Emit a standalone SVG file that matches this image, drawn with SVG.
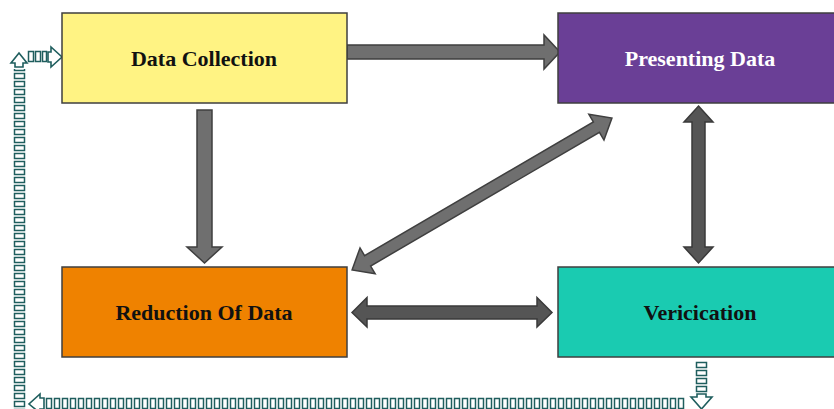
<svg xmlns="http://www.w3.org/2000/svg" width="834" height="409" viewBox="0 0 834 409">
  <style>
    .box { stroke: #3f3f3f; stroke-width: 1.5; }
    .label { font-family: "Liberation Serif", "Times New Roman", serif; font-weight: bold; font-size: 22px; text-anchor: middle; dominant-baseline: central; }
    .arrowA { fill: #6f6f6f; stroke: #3f3f3f; stroke-width: 1.5; stroke-linejoin: miter; }
    .arrowB { fill: #555555; stroke: #3a3a3a; stroke-width: 1.5; stroke-linejoin: miter; }
    .loopHead { fill: #ffffff; stroke: #1f5e5e; stroke-width: 1.6; stroke-linejoin: miter; }
    .bar { fill: #ffffff; stroke: #1f5e5e; stroke-width: 1.5; }
  </style>
  <defs>
    <!-- stacked little bars for the left vertical run -->
    <pattern id="barsV" patternUnits="userSpaceOnUse" x="13" y="0" width="13" height="8">
      <rect class="bar" x="1.5" y="1.5" width="10" height="5"/>
    </pattern>
    <!-- side-by-side little bars for the bottom run -->
    <pattern id="barsH" patternUnits="userSpaceOnUse" x="45" y="397" width="8" height="13">
      <rect class="bar" x="1.5" y="1.5" width="5" height="10"/>
    </pattern>
  </defs>
  <rect width="834" height="409" fill="#ffffff"/>

  <g id="connectors">
    <!-- Data Collection -> Presenting Data -->
    <polygon class="arrowA" points="347,45 544,45 544,35 560,52 544,69 544,59 347,59"/>
    <!-- Data Collection -> Reduction Of Data -->
    <polygon class="arrowA" points="197,110 212,110 212,247 222,247 204.5,263 187,247 197,247"/>
    <!-- Reduction Of Data <-> Presenting Data -->
    <polygon class="arrowA" transform="translate(482,194) rotate(-30.3)" points="-150.5,0 -132.5,-15 -132.5,-6 132.5,-6 132.5,-15 150.5,0 132.5,15 132.5,6 -132.5,6 -132.5,15"/>
    <!-- Reduction Of Data <-> Vericication -->
    <polygon class="arrowB" points="352,312.5 367,297.5 367,306 537,306 537,297.5 552,312.5 537,327 537,319 367,319 367,327"/>
    <!-- Presenting Data <-> Vericication -->
    <polygon class="arrowB" points="698.5,106 713,122 705,122 705,247 713,247 698.5,263 684,247 692,247 692,122 684,122"/>

    <!-- feedback loop: down, left, up, right -->
    <g id="loop">
      <!-- down from Vericication -->
      <rect class="bar" x="696.5" y="362.5" width="10" height="5"/>
      <rect class="bar" x="696.5" y="370.5" width="10" height="5"/>
      <rect class="bar" x="696.5" y="378.5" width="10" height="5"/>
      <rect class="bar" x="696.5" y="386.5" width="10" height="5"/>
      <polygon class="loopHead" points="697,394 706,394 706,397 712,397 701.5,409 691,397 697,397"/>
      <!-- left along the bottom -->
      <rect x="45" y="397" width="640" height="13" fill="url(#barsH)"/>
      <polygon class="loopHead" points="44,398 44,409 40,409 40,413 29,404 40,394 40,398"/>
      <!-- up the left side -->
      <rect x="13" y="69" width="13" height="344" fill="url(#barsV)"/>
      <polygon class="loopHead" points="15,67 15,63 11,63 19,53 27,63 23,63 23,67"/>
      <!-- right into Data Collection -->
      <rect class="bar" x="28.5" y="51.5" width="5" height="10"/>
      <rect class="bar" x="35.5" y="51.5" width="5" height="10"/>
      <rect class="bar" x="42.5" y="51.5" width="4" height="10"/>
      <polygon class="loopHead" points="48,52 51,52 51,47 62,57 51,67 51,62 48,62"/>
    </g>
  </g>

  <g id="data-collection">
    <rect class="box" x="62" y="13" width="285" height="90" fill="#fff383"/>
    <text class="label" x="204" y="58" fill="#111111">Data Collection</text>
  </g>
  <g id="presenting-data">
    <rect class="box" x="558" y="13" width="285" height="90" fill="#6a3f96"/>
    <text class="label" x="700" y="58" fill="#ffffff">Presenting Data</text>
  </g>
  <g id="reduction-of-data">
    <rect class="box" x="62" y="267" width="285" height="90" fill="#ef8200"/>
    <text class="label" x="204" y="312" fill="#111111">Reduction Of Data</text>
  </g>
  <g id="vericication">
    <rect class="box" x="558" y="267" width="285" height="90" fill="#1acbb1"/>
    <text class="label" x="700" y="312" fill="#111111">Vericication</text>
  </g>
</svg>
